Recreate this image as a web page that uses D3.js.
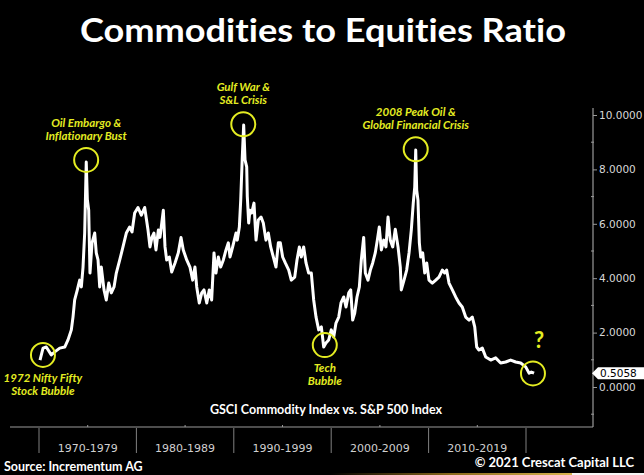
<!DOCTYPE html>
<html>
<head>
<meta charset="utf-8">
<script src="https://cdn.jsdelivr.net/npm/d3@7"></script>
<style>
  html, body { margin: 0; padding: 0; background: #000; }
  svg { display: block; }
  text { font-variant-ligatures: none; font-feature-settings: "liga" 0; }
</style>
</head>
<body>
<div class="chart"></div>
<script>
// GSCI / S&P 500 ratio
const years = [
  1970.00, 1970.31, 1970.64, 1971.15, 1971.50, 1972.01, 1972.52, 1972.85, 1973.19, 1973.36,
  1973.53, 1973.80, 1974.04, 1974.21, 1974.38, 1974.55, 1974.71, 1974.82, 1974.96, 1975.09,
  1975.30, 1975.57, 1975.73, 1975.91, 1976.08, 1976.24, 1976.52, 1976.75, 1977.00, 1977.26,
  1977.54, 1977.77, 1978.12, 1978.45, 1978.79, 1979.13, 1979.37, 1979.64, 1979.98, 1980.32,
  1980.66, 1981.00, 1981.20, 1981.40, 1981.60, 1981.81, 1982.05, 1982.22, 1982.56, 1982.73,
  1982.90, 1983.17, 1983.41, 1983.75, 1984.08, 1984.36, 1984.59, 1984.94, 1985.27, 1985.55,
  1985.78, 1985.96, 1986.22, 1986.47, 1986.70, 1986.98, 1987.24, 1987.48, 1987.72, 1987.92,
  1988.16, 1988.40, 1988.67, 1988.94, 1989.18, 1989.35, 1989.62, 1989.96, 1990.09, 1990.30,
  1990.44, 1990.60, 1990.74, 1990.88, 1991.05, 1991.11, 1991.25, 1991.38, 1991.56, 1991.79,
  1992.00, 1992.23, 1992.51, 1992.74, 1993.01, 1993.25, 1993.49, 1993.76, 1994.03, 1994.27,
  1994.47, 1994.71, 1994.98, 1995.33, 1995.59, 1995.94, 1996.17, 1996.41, 1996.61, 1996.85,
  1997.09, 1997.36, 1997.63, 1997.87, 1998.11, 1998.38, 1998.65, 1998.89, 1999.12, 1999.40,
  1999.66, 1999.91, 2000.14, 2000.42, 2000.65, 2000.93, 2001.16, 2001.44, 2001.64, 2001.84,
  2002.05, 2002.28, 2002.52, 2002.72, 2002.96, 2003.13, 2003.40, 2003.64, 2003.88, 2004.14,
  2004.35, 2004.55, 2004.76, 2005.00, 2005.23, 2005.44, 2005.67, 2005.92, 2006.18, 2006.46,
  2006.69, 2006.79, 2007.07, 2007.34, 2007.58, 2007.81, 2008.01, 2008.16, 2008.26, 2008.36,
  2008.49, 2008.63, 2008.77, 2008.97, 2009.18, 2009.38, 2009.61, 2009.95, 2010.30, 2010.63,
  2010.97, 2011.21, 2011.41, 2011.65, 2011.99, 2012.33, 2012.67, 2013.00, 2013.35, 2013.69,
  2014.02, 2014.27, 2014.47, 2014.70, 2015.04, 2015.39, 2015.90, 2016.40, 2016.91, 2017.42,
  2017.93, 2018.44, 2018.95, 2019.46, 2019.80, 2020.03, 2020.31
];
const ratio = [
  0.99, 1.43, 1.47, 1.18, 1.29, 1.43, 1.47, 1.73, 2.10, 2.57,
  3.20, 3.57, 3.93, 3.68, 4.40, 5.66, 8.27, 6.90, 6.50, 4.19,
  5.30, 5.66, 4.93, 4.67, 3.68, 4.41, 3.57, 3.20, 3.82, 3.46,
  3.68, 4.19, 4.67, 5.15, 5.66, 5.88, 5.70, 6.40, 6.60, 6.32,
  6.60, 5.77, 5.15, 5.50, 5.66, 5.04, 5.77, 5.50, 6.50, 5.15,
  4.67, 4.78, 4.23, 4.56, 4.93, 5.50, 5.04, 4.67, 4.41, 3.93,
  4.41, 3.68, 3.09, 3.46, 3.57, 3.09, 3.57, 3.20, 4.93, 4.19,
  4.78, 4.41, 4.67, 5.04, 5.30, 4.78, 5.15, 5.66, 5.40, 5.88,
  6.87, 8.46, 9.63, 8.35, 8.09, 7.00, 6.03, 6.50, 6.40, 6.76,
  5.40, 6.14, 6.25, 6.03, 5.40, 5.66, 5.15, 4.78, 4.41, 5.30,
  5.30, 4.78, 4.56, 4.30, 3.93, 4.04, 4.67, 5.15, 4.78, 5.15,
  4.56, 4.19, 4.19, 3.20, 2.57, 2.10, 2.21, 1.47, 1.62, 1.73,
  2.10, 1.84, 2.35, 2.57, 3.09, 3.31, 2.94, 3.46, 3.57, 2.46,
  2.72, 3.31, 3.68, 4.67, 5.50, 4.19, 3.93, 4.30, 4.56, 4.93,
  5.40, 5.88, 5.04, 5.40, 5.15, 6.25, 5.40, 5.15, 5.80, 5.15,
  4.41, 3.57, 3.93, 4.30, 4.93, 5.77, 6.76, 7.35, 8.71, 7.24,
  6.87, 5.30, 4.78, 4.93, 4.19, 4.56, 3.93, 3.82, 3.93, 4.04,
  4.30, 4.19, 4.30, 3.82, 3.57, 3.31, 3.09, 2.94, 2.57, 2.46,
  2.57, 2.21, 1.47, 1.36, 1.43, 1.10, 0.99, 1.07, 0.88, 0.92,
  0.99, 0.92, 0.88, 0.74, 0.51, 0.55, 0.5058
];

const decades = ["1970-1979", "1980-1989", "1990-1999", "2000-2009", "2010-2019"];
const yTicks = [0, 2, 4, 6, 8, 10];
const yMinorTicks = [-1, 1, 3, 5, 7, 9];

// circled events: where they sit on the line, and their captions
const notes = [
  { year: 1970.3, value: 1.18, lines: ["1972 Nifty Fifty", "Stock Bubble"], below: true },
  { year: 1974.7, value: 8.35, lines: ["Oil Embargo &", "Inflationary Bust"], below: false },
  { year: 1990.7, value: 9.66, lines: ["Gulf War &", "S&L Crisis"], below: false },
  { year: 1999.0, value: 1.54, lines: ["Tech", "Bubble"], below: true },
  { year: 2008.26, value: 8.74, lines: ["2008 Peak Oil &", "Global Financial Crisis"], below: false },
  { year: 2020.2, value: 0.5, lines: [], below: false }
];

const W = 644, H = 475;
const yellow = "#e4ec22";

const svg = d3.select(".chart").append("svg")
  .attr("width", W)
  .attr("height", H);

svg.append("rect").attr("width", W).attr("height", H).attr("fill", "#000");

const x = d3.scaleLinear().domain([1970, 2020]).range([40, 531]);
const y = d3.scaleLinear().domain([0, 10]).range([387, 115]);
const band = d3.scaleBand().domain(decades).range([39, 526]);

const axisX = 593;
const frameBottom = 427;

// title
svg.append("text")
  .attr("x", 323).attr("y", 42)
  .attr("text-anchor", "middle")
  .attr("fill", "#fff")
  .attr("font-family", "Lato")
  .attr("font-weight", "bold")
  .attr("font-size", 33)
  .attr("textLength", 486)
  .attr("lengthAdjust", "spacingAndGlyphs")
  .text("Commodities to Equities Ratio");

// right axis frame
svg.append("line")
  .attr("x1", axisX).attr("x2", axisX)
  .attr("y1", y(10.26)).attr("y2", frameBottom)
  .attr("stroke", "#9a9a9a").attr("stroke-width", 1.2);

svg.append("line")
  .attr("x1", 10).attr("x2", axisX)
  .attr("y1", frameBottom).attr("y2", frameBottom)
  .attr("stroke", "#9a9a9a").attr("stroke-width", 1.2);

const yAxis = svg.append("g")
  .attr("transform", "translate(" + axisX + ",0)")
  .call(d3.axisRight(y).tickValues(yTicks).tickSize(4).tickPadding(2)
    .tickFormat(d3.format(".4f")));
yAxis.select(".domain").remove();
yAxis.selectAll("line").attr("stroke", "#9a9a9a");
yAxis.selectAll("text")
  .attr("fill", "#d8d8d8")
  .attr("font-family", "DejaVu Sans")
  .attr("font-size", 10.5);

svg.selectAll(".minor")
  .data(yMinorTicks)
  .enter()
  .append("line")
  .attr("class", "minor")
  .attr("x1", axisX - 2).attr("x2", axisX + 1)
  .attr("y1", d => y(d)).attr("y2", d => y(d))
  .attr("stroke", "#9a9a9a");

// current value flag
const last = ratio[ratio.length - 1];
const ly = y(last);
svg.append("path")
  .attr("d", "M" + (axisX - 1) + "," + ly + " L" + (axisX + 5) + "," + (ly - 6) +
    " L" + W + "," + (ly - 6) + " L" + W + "," + (ly + 6) + " L" + (axisX + 5) + "," + (ly + 6) + " Z")
  .attr("fill", "#fff");
svg.append("text")
  .attr("x", axisX + 7).attr("y", ly)
  .attr("dy", "0.36em")
  .attr("fill", "#000")
  .attr("font-family", "DejaVu Sans")
  .attr("font-size", 10.5)
  .text(d3.format(".4f")(last));

// the ratio line
svg.append("path")
  .datum(d3.zip(years, ratio))
  .attr("fill", "none")
  .attr("stroke", "#fff")
  .attr("stroke-width", 3)
  .attr("stroke-linejoin", "round")
  .attr("d", d3.line()
    .x(d => x(d[0]))
    .y(d => y(d[1])));

// subtitle inside the frame
svg.append("text")
  .attr("x", 326).attr("y", 414)
  .attr("text-anchor", "middle")
  .attr("fill", "#fff")
  .attr("font-family", "Lato")
  .attr("font-weight", "bold")
  .attr("font-size", 12.5)
  .text("GSCI Commodity Index vs. S&P 500 Index");

// decade strip
const edges = decades.map(d => band(d)).concat([band.range()[1]]);
svg.selectAll(".sep")
  .data(edges)
  .enter()
  .append("line")
  .attr("class", "sep")
  .attr("x1", d => d).attr("x2", d => d)
  .attr("y1", frameBottom + 1).attr("y2", 453)
  .attr("stroke", "#808080");

svg.selectAll(".mid")
  .data(decades)
  .enter()
  .append("line")
  .attr("class", "mid")
  .attr("x1", d => band(d) + band.bandwidth() / 2)
  .attr("x2", d => band(d) + band.bandwidth() / 2)
  .attr("y1", frameBottom - 2).attr("y2", frameBottom)
  .attr("stroke", "#9a9a9a");

svg.selectAll(".decade")
  .data(decades)
  .enter()
  .append("text")
  .attr("class", "decade")
  .attr("x", d => band(d) + band.bandwidth() / 2)
  .attr("y", 452)
  .attr("text-anchor", "middle")
  .attr("fill", "#d0d0d0")
  .attr("font-family", "DejaVu Sans")
  .attr("font-size", 11)
  .text(d => d);

// annotations
const ann = svg.selectAll(".note")
  .data(notes)
  .enter()
  .append("g")
  .attr("class", "note")
  .attr("transform", d => "translate(" + x(d.year) + "," + y(d.value) + ")");

ann.append("circle")
  .attr("r", 12)
  .attr("fill", "none")
  .attr("stroke", yellow)
  .attr("stroke-width", 2);

ann.each(function (d) {
  const g = d3.select(this);
  d.lines.forEach((t, i) => {
    const off = d.below ? 27 + i * 13 : -33 + i * 13;
    g.append("text")
      .attr("y", off)
      .attr("text-anchor", "middle")
      .attr("fill", yellow)
      .attr("font-family", "Lato")
      .attr("font-weight", "bold")
      .attr("font-style", "italic")
      .attr("font-size", 11.5)
      .text(t);
  });
});

svg.append("text")
  .attr("x", x(2020.2) + 6).attr("y", 348)
  .attr("text-anchor", "middle")
  .attr("fill", yellow)
  .attr("font-family", "Lato")
  .attr("font-weight", "bold")
  .attr("font-size", 22)
  .text("?");

// footer
svg.append("text")
  .attr("x", 4).attr("y", 471)
  .attr("fill", "#fff")
  .attr("font-family", "Lato")
  .attr("font-weight", "bold")
  .attr("font-size", 12.5)
  .text("Source: Incrementum AG");

svg.append("text")
  .attr("x", 634).attr("y", 467)
  .attr("text-anchor", "end")
  .attr("fill", "#fff")
  .attr("font-family", "Lato")
  .attr("font-weight", "bold")
  .attr("font-size", 13)
  .text("\u00a9 2021 Crescat Capital LLC");

const grad = svg.append("defs").append("linearGradient").attr("id", "gold");
grad.append("stop").attr("offset", "0").attr("stop-color", "#000");
grad.append("stop").attr("offset", "0.5").attr("stop-color", "#8a6a1c");
grad.append("stop").attr("offset", "1").attr("stop-color", "#d8b450");
svg.append("rect")
  .attr("x", 330).attr("y", 473).attr("width", 242).attr("height", 2)
  .attr("fill", "url(#gold)");
svg.append("rect")
  .attr("x", 572).attr("y", 473).attr("width", 72).attr("height", 2)
  .attr("fill", "#f4f4f4");
</script>
</body>
</html>
